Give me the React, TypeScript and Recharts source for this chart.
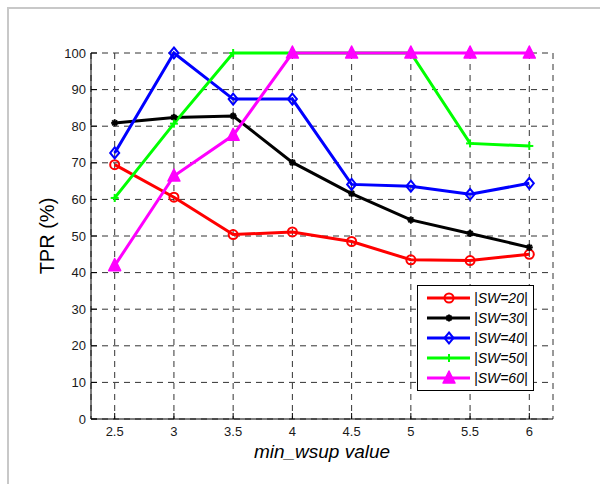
import React from "react";
import {
  LineChart,
  Line,
  XAxis,
  YAxis,
  CartesianGrid,
  Legend,
} from "recharts";

// x = min_wsup value, y = TPR (%) per |SW| size
const minWsup = [2.5, 3, 3.5, 4, 4.5, 5, 5.5, 6];
const sw20 = [69.5, 60.6, 50.4, 51.1, 48.5, 43.5, 43.3, 45.0];
const sw30 = [80.9, 82.4, 82.8, 70.1, 61.6, 54.4, 50.7, 46.9];
const sw40 = [72.7, 100, 87.4, 87.4, 64.1, 63.6, 61.4, 64.4];
const sw50 = [60.4, 80.7, 100, 100, 100, 100, 75.3, 74.6];
const sw60 = [41.9, 66.4, 77.5, 100, 100, 100, 100, 100];

const xTicks = [2.5, 3, 3.5, 4, 4.5, 5, 5.5, 6];
const yTicks = [0, 10, 20, 30, 40, 50, 60, 70, 80, 90, 100];

type MarkerKind = "circle" | "star" | "diamond" | "plus" | "triangle";

const series: { key: string; name: string; color: string; marker: MarkerKind; width: number }[] = [
  { key: "sw20", name: "|SW=20|", color: "#ff0000", marker: "circle", width: 3 },
  { key: "sw30", name: "|SW=30|", color: "#000000", marker: "star", width: 3 },
  { key: "sw40", name: "|SW=40|", color: "#0000ff", marker: "diamond", width: 3 },
  { key: "sw50", name: "|SW=50|", color: "#00ff00", marker: "plus", width: 3 },
  { key: "sw60", name: "|SW=60|", color: "#ff00ff", marker: "triangle", width: 3 },
];

const data = minWsup.map((x, i) => ({
  x,
  sw20: sw20[i],
  sw30: sw30[i],
  sw40: sw40[i],
  sw50: sw50[i],
  sw60: sw60[i],
}));

const FONT = "'Liberation Sans', Arial, Helvetica, sans-serif";

function Marker({ kind, cx, cy, color }: { kind: MarkerKind; cx: number; cy: number; color: string }) {
  if (kind === "circle") {
    return <circle cx={cx} cy={cy} r={4.5} fill="none" stroke={color} strokeWidth={2} />;
  }
  if (kind === "star") {
    return (
      <g stroke={color} strokeWidth={2}>
        <line x1={cx - 3.5} y1={cy} x2={cx + 3.5} y2={cy} />
        <line x1={cx} y1={cy - 3.5} x2={cx} y2={cy + 3.5} />
        <line x1={cx - 2.5} y1={cy - 2.5} x2={cx + 2.5} y2={cy + 2.5} />
        <line x1={cx - 2.5} y1={cy + 2.5} x2={cx + 2.5} y2={cy - 2.5} />
      </g>
    );
  }
  if (kind === "diamond") {
    return (
      <polygon
        points={`${cx},${cy - 5.5} ${cx + 4.5},${cy} ${cx},${cy + 5.5} ${cx - 4.5},${cy}`}
        fill="none"
        stroke={color}
        strokeWidth={2}
      />
    );
  }
  if (kind === "plus") {
    return (
      <g stroke={color} strokeWidth={2}>
        <line x1={cx - 4} y1={cy} x2={cx + 4} y2={cy} />
        <line x1={cx} y1={cy - 4} x2={cx} y2={cy + 4} />
      </g>
    );
  }
  return (
    <polygon
      points={`${cx},${cy - 7} ${cx + 6},${cy + 5} ${cx - 6},${cy + 5}`}
      fill={color}
      stroke={color}
      strokeWidth={1.5}
      strokeLinejoin="round"
    />
  );
}

function LegendBox() {
  return (
    <div style={{ border: "1px solid #000", background: "#fff", width: 115, height: 104 }}>
      <svg width={115} height={104}>
        {series.map((s, i) => {
          const y = 12 + i * 20;
          return (
            <g key={s.key}>
              <line x1={9} y1={y} x2={52} y2={y} stroke={s.color} strokeWidth={s.width} />
              <Marker kind={s.marker} cx={31} cy={y} color={s.color} />
              <text
                x={56}
                y={y + 5}
                fontSize={14}
                fontStyle="italic"
                fontFamily={FONT}
                fill="#000"
              >
                {s.name}
              </text>
            </g>
          );
        })}
      </svg>
    </div>
  );
}

export default function App() {
  const tickStyle = { fontSize: 13, fill: "#1a1a1a", fontFamily: FONT };
  return (
    <div style={{ position: "absolute", left: 0, top: 0, width: 600, height: 484, overflow: "hidden", background: "#fff" }}>
      <div
        style={{
          position: "absolute",
          left: 7,
          top: 7,
          width: 700,
          height: 700,
          border: "2px solid #c8c8c8",
        }}
      />
      <div style={{ position: "absolute", left: 0, top: 0 }}>
        <LineChart width={600} height={484} data={data} margin={{ top: 53, right: 47, bottom: 0, left: 2 }}>
          <CartesianGrid stroke="#333" strokeDasharray="6 5" strokeWidth={1} />
          <XAxis
            dataKey="x"
            type="number"
            domain={[2.3, 6.2]}
            ticks={xTicks}
            height={65}
            stroke="#000"
            tickSize={-6}
            tickMargin={14}
            tick={tickStyle}
            label={{
              value: "min_wsup value",
              position: "center",
              style: { fontSize: 19, fontStyle: "italic", fill: "#000", fontFamily: FONT },
            }}
          />
          <XAxis
            xAxisId="top"
            dataKey="x"
            type="number"
            orientation="top"
            domain={[2.3, 6.2]}
            ticks={xTicks}
            height={0}
            stroke="#000"
            tickSize={-6}
            tick={false}
          />
          <YAxis
            type="number"
            domain={[0, 100]}
            ticks={yTicks}
            width={89}
            stroke="#000"
            tickSize={-6}
            tickMargin={11}
            tick={tickStyle}
            label={{
              value: "TPR (%)",
              angle: -90,
              position: "center",
              style: { fontSize: 20, fill: "#000", fontFamily: FONT },
            }}
          />
          <YAxis
            yAxisId="right"
            type="number"
            orientation="right"
            domain={[0, 100]}
            ticks={yTicks}
            width={0}
            stroke="#000"
            tickSize={-6}
            tick={false}
          />
          <Legend
            layout="vertical"
            align="center"
            verticalAlign="middle"
            content={() => <LegendBox />}
            wrapperStyle={{ left: 417, top: 285, width: 117, height: 106 }}
          />
          {series.map((s) => (
            <Line
              key={s.key}
              dataKey={s.key}
              name={s.name}
              type="linear"
              stroke={s.color}
              strokeWidth={s.width}
              isAnimationActive={false}
              dot={(p: any) => (
                <Marker key={`${s.key}-${p.index}`} kind={s.marker} cx={p.cx} cy={p.cy} color={s.color} />
              )}
              activeDot={false}
            />
          ))}
        </LineChart>
      </div>
    </div>
  );
}
